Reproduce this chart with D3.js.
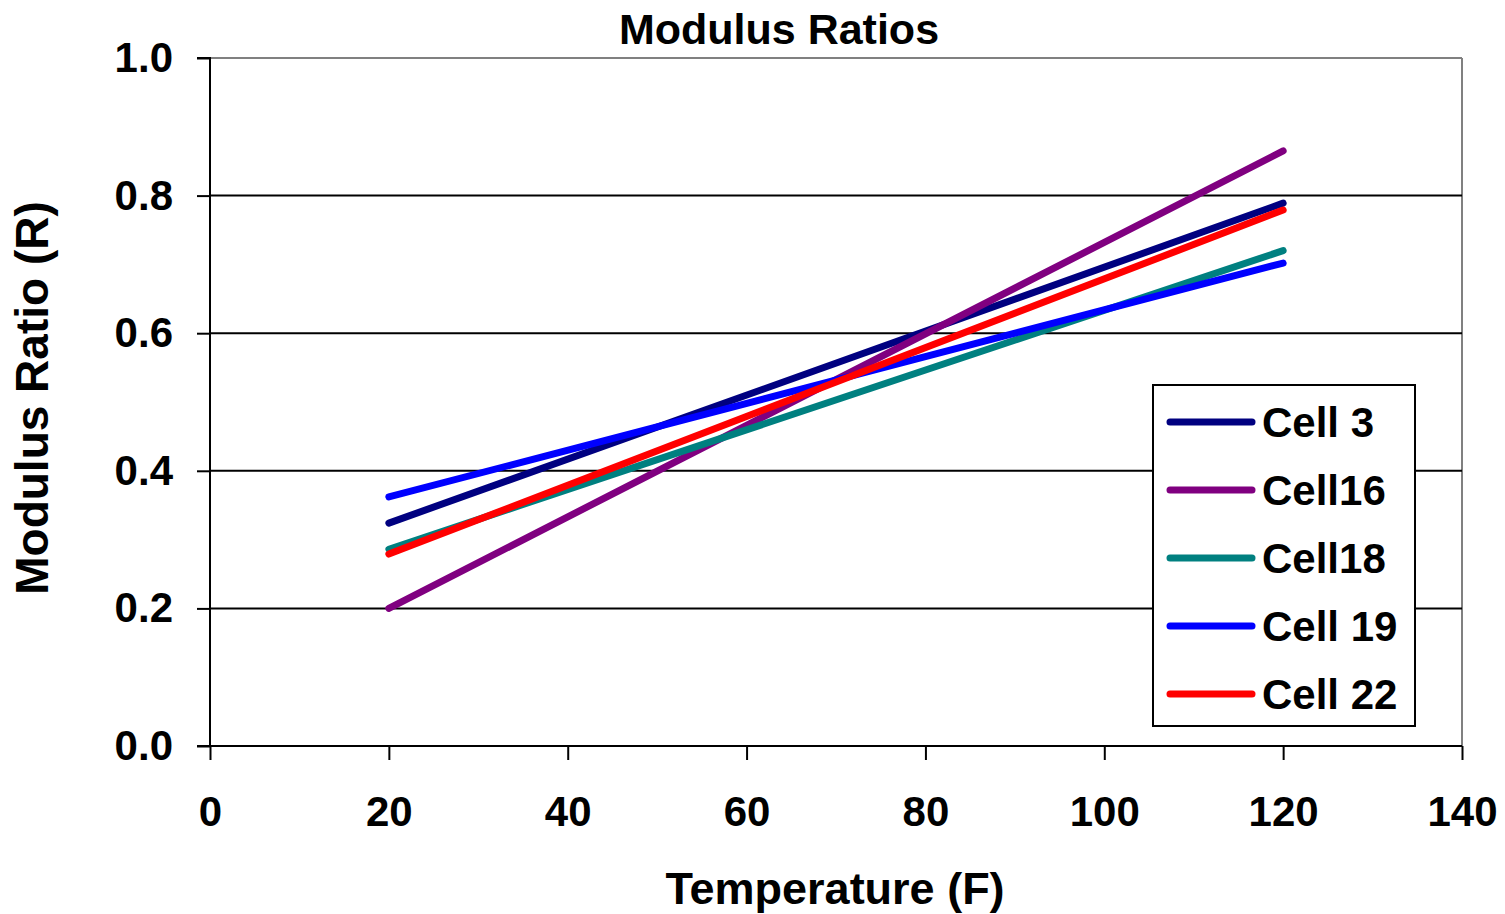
<!DOCTYPE html>
<html><head><meta charset="utf-8">
<script src="https://cdn.jsdelivr.net/npm/d3@7"></script>
<style>body{margin:0;background:#fff}svg{display:block}text{font-family:"Liberation Sans",Arial,sans-serif}</style>
</head><body>
<svg id="c" width="1505" height="914"></svg>
<script>
const temperatures = [20, 120];
const seriesNames = ["Cell 3", "Cell16", "Cell18", "Cell 19", "Cell 22"];
const seriesColors = ["#000080", "#800080", "#008080", "#0000FF", "#FF0000"];
const cell3 = [0.324, 0.789];
const cell16 = [0.200, 0.865];
const cell18 = [0.286, 0.720];
const cell19 = [0.362, 0.702];
const cell22 = [0.279, 0.779];
const seriesValues = [cell3, cell16, cell18, cell19, cell22];
const xTicks = [0, 20, 40, 60, 80, 100, 120, 140];
const yTicks = [0, 0.2, 0.4, 0.6, 0.8, 1.0];

const svg = d3.select("#c");
const L = 210, R = 1462, T = 58, B = 746;
const x = d3.scaleLinear().domain([0, 140]).range([L, R]);
const y = d3.scaleLinear().domain([0, 1]).range([B, T]);

// plot border (top/right gray)
svg.append("line").attr("x1", L).attr("x2", R).attr("y1", T).attr("y2", T).attr("stroke", "#808080").attr("stroke-width", 2);
svg.append("line").attr("x1", R).attr("x2", R).attr("y1", T).attr("y2", B).attr("stroke", "#808080").attr("stroke-width", 2);

// gridlines
svg.append("g").selectAll("line").data(yTicks.filter(d => d > 0 && d < 1)).join("line")
  .attr("x1", L).attr("x2", R).attr("y1", d => y(d)).attr("y2", d => y(d))
  .attr("stroke", "#000").attr("stroke-width", 2);

// y axis
const yAxis = svg.append("g").attr("transform", `translate(${L},0)`)
  .call(d3.axisLeft(y).tickValues(yTicks).tickFormat(d3.format(".1f")).tickSize(13).tickPadding(24));
yAxis.select(".domain").attr("stroke-width", 2).attr("d", `M-13,${y(1)}H0V${y(0)}`);
yAxis.selectAll(".tick line").attr("stroke-width", 2);
yAxis.selectAll("text").style("font-size", "42px").style("font-weight", "bold").attr("fill", "#000");

// x axis
const xAxis = svg.append("g").attr("transform", `translate(0,${B})`)
  .call(d3.axisBottom(x).tickValues(xTicks).tickSize(14).tickPadding(36));
xAxis.select(".domain").attr("stroke-width", 2).attr("d", `M${L - 13},0H${R}`);
xAxis.selectAll(".tick line").attr("stroke-width", 2);
xAxis.selectAll("text").style("font-size", "42px").style("font-weight", "bold").attr("fill", "#000");

// series
const line = d3.line().x((d, i) => x(temperatures[i])).y(d => y(d));
seriesValues.forEach((vals, k) => {
  svg.append("path").datum(vals).attr("d", line).attr("fill", "none")
    .attr("stroke", seriesColors[k]).attr("stroke-width", 7).attr("stroke-linecap", "round");
});

// titles
svg.append("text").attr("x", 779).attr("y", 44).attr("text-anchor", "middle")
  .style("font-size", "43px").style("font-weight", "bold").text("Modulus Ratios");
svg.append("text").attr("x", 835).attr("y", 904).attr("text-anchor", "middle")
  .style("font-size", "45px").style("font-weight", "bold").text("Temperature (F)");
svg.append("text").attr("transform", "translate(48,398) rotate(-90)").attr("text-anchor", "middle")
  .style("font-size", "46px").style("font-weight", "bold").text("Modulus Ratio (R)");

// legend
const lg = svg.append("g");
lg.append("rect").attr("x", 1153).attr("y", 385).attr("width", 262).attr("height", 341)
  .attr("fill", "#fff").attr("stroke", "#000").attr("stroke-width", 2);
seriesNames.forEach((n, k) => {
  const yy = 422 + k * 68;
  lg.append("line").attr("x1", 1170).attr("x2", 1252).attr("y1", yy).attr("y2", yy)
    .attr("stroke", seriesColors[k]).attr("stroke-width", 7).attr("stroke-linecap", "round");
  lg.append("text").attr("x", 1262).attr("y", yy + 15).style("font-size", "42px").style("font-weight", "bold").text(n);
});
</script>
</body></html>
